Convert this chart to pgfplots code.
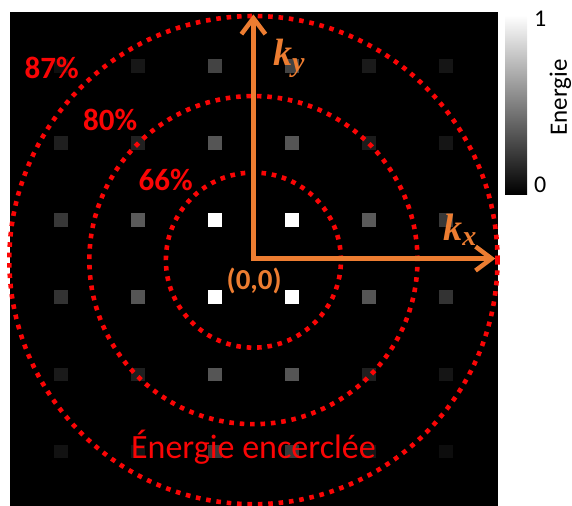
\documentclass[border=0pt]{standalone}
\usepackage{pgfplots}
\pgfplotsset{compat=1.18}
\usepackage{pgfplotstable}
\usepackage{fontspec}
\setmainfont{Carlito}
\newfontfamily\kfont{Liberation Serif}
\usetikzlibrary{arrows.meta}
\definecolor{korange}{RGB}{237,125,49}
\definecolor{cred}{RGB}{250,5,5}

\pgfplotstableread{
x y e
-2.5 2.5 0.06
-1.5 2.5 0.09
-0.5 2.5 0.26
0.5 2.5 0.26
1.5 2.5 0.10
2.5 2.5 0.08
-2.5 1.5 0.12
-1.5 1.5 0.13
-0.5 1.5 0.33
0.5 1.5 0.33
1.5 1.5 0.11
2.5 1.5 0.08
-2.5 0.5 0.22
-1.5 0.5 0.35
-0.5 0.5 1.00
0.5 0.5 1.00
1.5 0.5 0.35
2.5 0.5 0.22
-2.5 -0.5 0.20
-1.5 -0.5 0.33
-0.5 -0.5 1.00
0.5 -0.5 1.00
1.5 -0.5 0.33
2.5 -0.5 0.20
-2.5 -1.5 0.10
-1.5 -1.5 0.12
-0.5 -1.5 0.33
0.5 -1.5 0.33
1.5 -1.5 0.12
2.5 -1.5 0.08
-2.5 -2.5 0.07
-1.5 -2.5 0.08
-0.5 -2.5 0.22
0.5 -2.5 0.22
1.5 -2.5 0.08
2.5 -2.5 0.05
}\spots

\newcommand{\kk}[1]{{\kfont\bfseries\itshape\fontsize{19}{19}\selectfont k\raisebox{-0.3ex}{\fontsize{14}{14}\selectfont #1}}}

\begin{document}
\begin{tikzpicture}
\begin{axis}[
  set layers=standard,
  x=38.5pt, y=38.5pt,
  xmin=-3.16, xmax=3.175, ymin=-3.21, ymax=3.2,
  ticks=none,
  axis background/.style={fill=black},
  axis line style={draw=none},
  clip=false,
  colormap/blackwhite,
  point meta min=0, point meta max=1,
  colorbar,
  colorbar style={
    at={(parent axis.north east)}, anchor=north west,
    xshift=-5pt, yshift=-1.5pt,
    width=11pt, height=89.5pt,
    ytick={0.05,0.98}, yticklabels={0,1},
    major tick length=0pt,
    axis line style={draw=none},
    yticklabel pos=right,
    /pgf/number format/assume math mode=true,
    yticklabel style={font=\fontsize{12}{12}\selectfont},
  },
]
\addplot[scatter, only marks, mark=square*, mark size=3.1pt,
  scatter src=explicit,
  scatter/use mapped color={draw=mapped color, fill=mapped color}]
  table[x=x, y=y, meta=e] {\spots};

\begin{pgfonlayer}{axis foreground}
\draw[cred, line width=2.3pt, dash pattern=on 2.3pt off 2.9pt] (axis cs:0,-0.02) circle[radius=43.75pt];
\draw[cred, line width=2.3pt, dash pattern=on 2.3pt off 2.9pt] (axis cs:0,-0.02) circle[radius=82pt];
\draw[cred, line width=2.3pt, dash pattern=on 2.3pt off 2.9pt] (axis cs:0,-0.02) circle[radius=122pt];

\draw[korange, line width=2.25pt,
  {Straight Barb[length=8pt,width=12pt]}-{Straight Barb[length=8pt,width=12pt]}]
  (axis cs:3.14,0) -- (axis cs:0,0) -- (axis cs:0,3.17);

\node[cred, font=\bfseries\fontsize{15.5}{15.5}\selectfont] at (axis cs:-2.62,2.48) {87\%};
\node[cred, font=\bfseries\fontsize{15.5}{15.5}\selectfont] at (axis cs:-1.86,1.80) {80\%};
\node[cred, font=\bfseries\fontsize{15.5}{15.5}\selectfont] at (axis cs:-1.14,1.02) {66\%};
\node[korange, font=\bfseries\fontsize{14.5}{14.5}\selectfont] at (axis cs:0.01,-0.29) {(0,0)};
\node[cred, anchor=base, font=\fontsize{17}{17}\selectfont] at (axis cs:0,-2.60) {Énergie encerclée};
\node[korange] at (axis cs:2.68,0.37) {\kk{x}};
\node[korange] at (axis cs:0.46,2.60) {\kk{y}};
\node[black, rotate=90, anchor=base, font=\fontsize{12.5}{12.5}\selectfont] at (axis cs:4.07,2.09) {Energie};
\end{pgfonlayer}

\coordinate (bl) at (axis cs:-3.29,-3.21);
\coordinate (tr) at (axis cs:4.136,3.357);
\end{axis}
\pgfresetboundingbox
\path (bl) rectangle (tr);
\end{tikzpicture}
\end{document}
